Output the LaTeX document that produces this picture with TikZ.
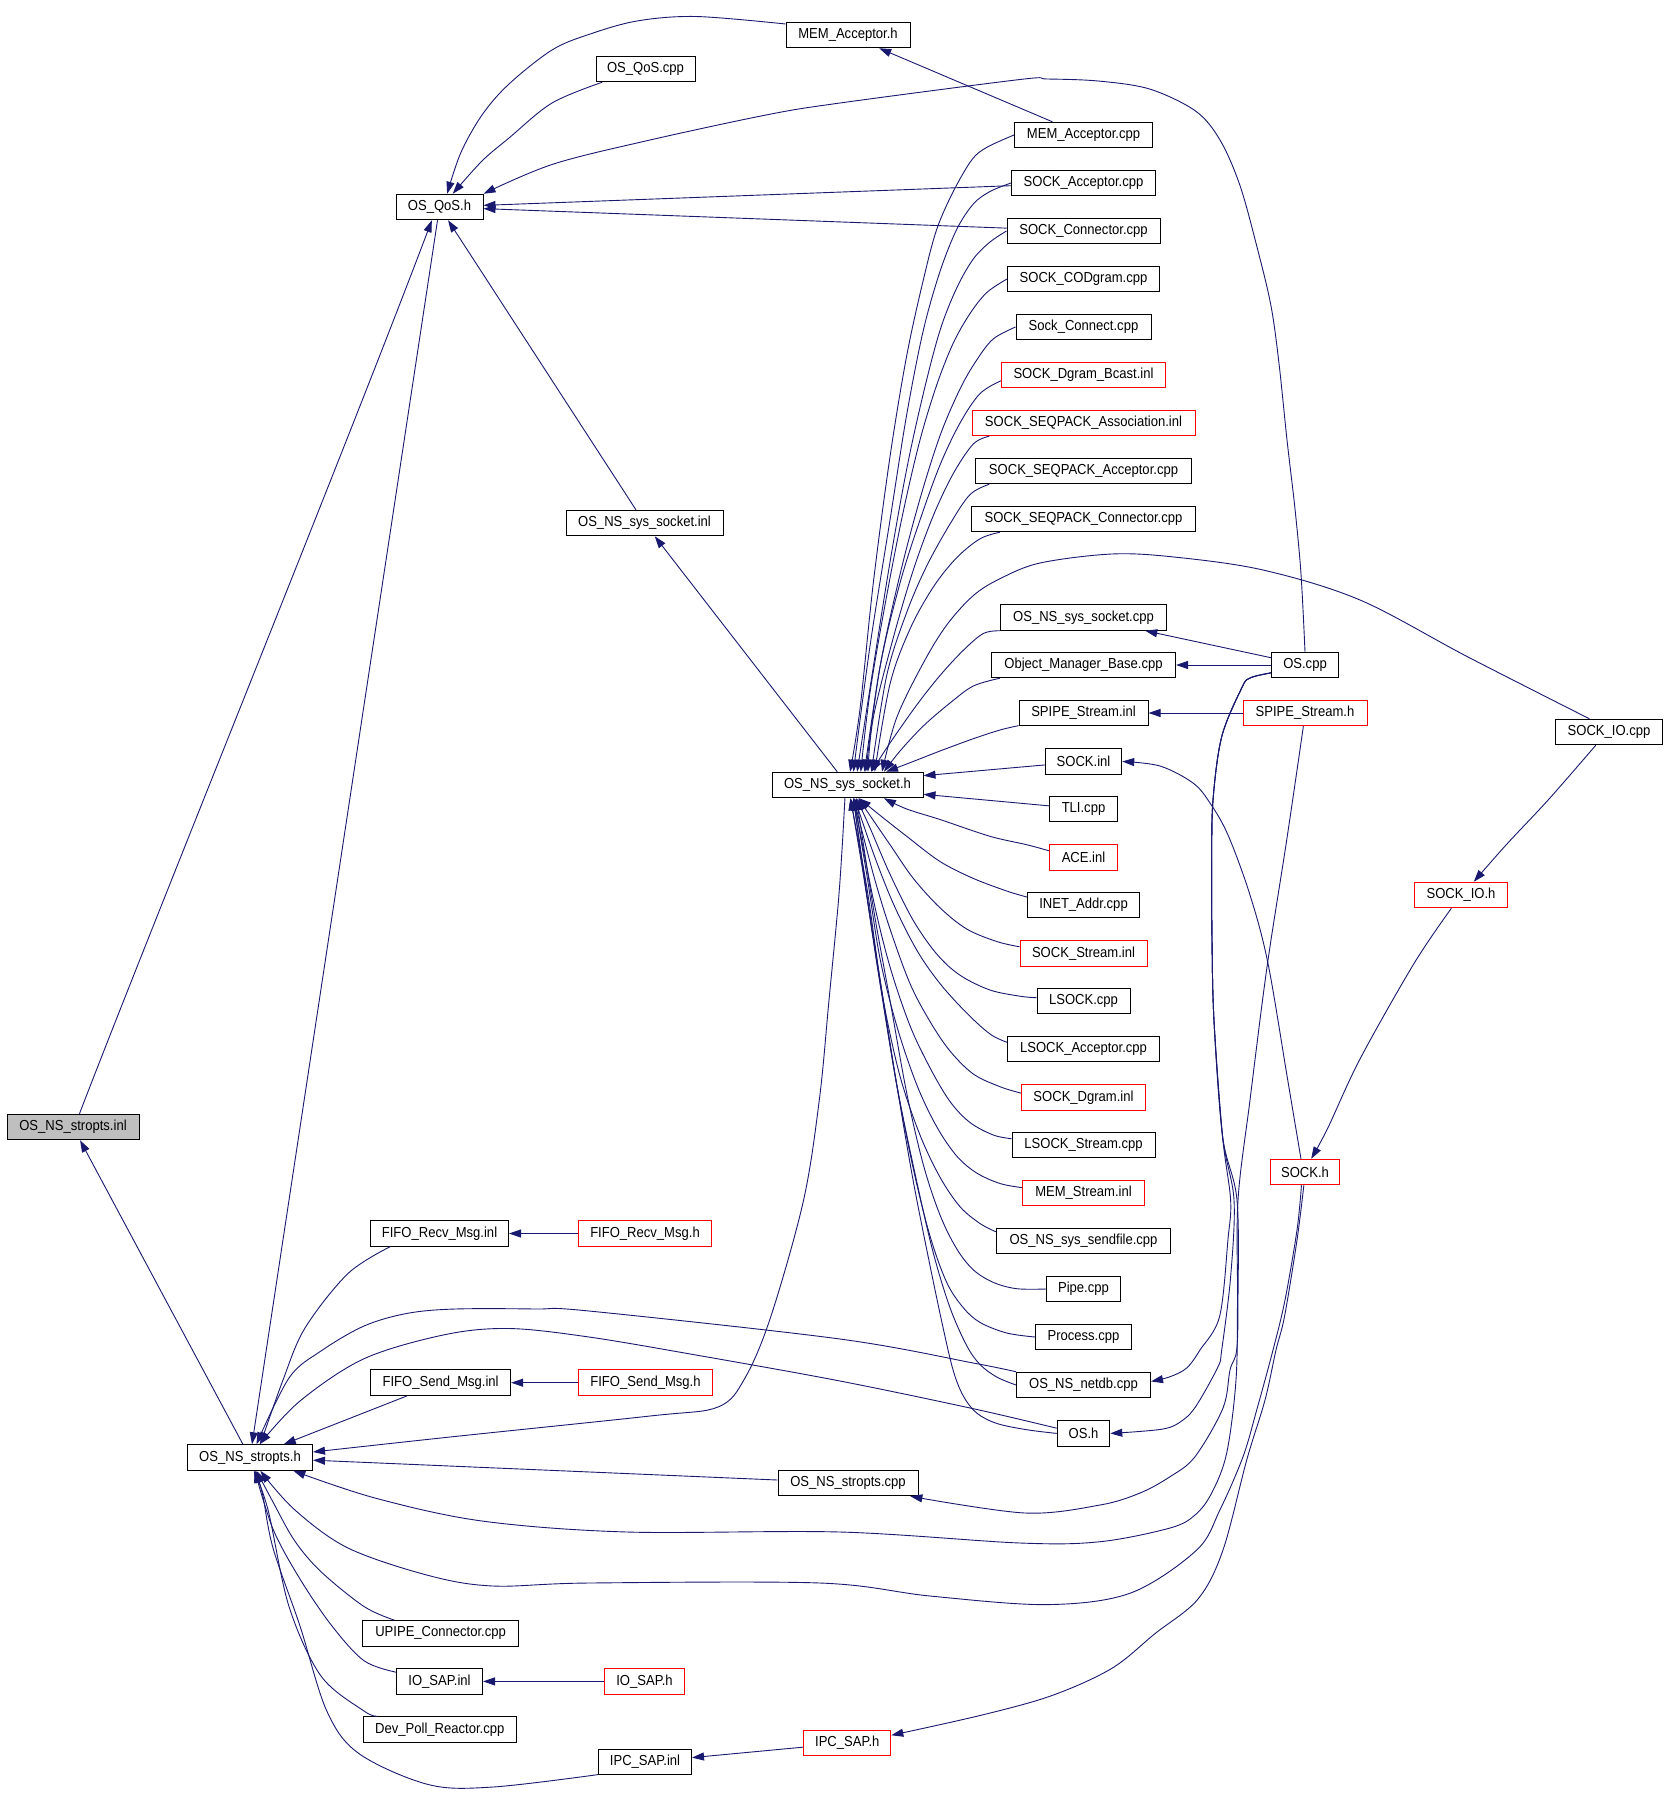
\documentclass[tikz,border=0pt]{standalone}
\usepackage{fontspec}
\setmainfont{Liberation Sans}[FakeStretch=0.9]
\usetikzlibrary{arrows.meta}
\definecolor{edgec}{RGB}{25,25,112}
\definecolor{rootfill}{RGB}{191,191,191}
\begin{document}
\begin{tikzpicture}[x=1pt,y=-1pt,
  box/.style={draw=black, line width=1pt, fill=white, minimum height=25.5pt, inner sep=0pt, font=\fontsize{14.5}{17}\selectfont},
  redbox/.style={box, draw=red},
  rootbox/.style={box, fill=rootfill},
  edge/.style={draw=edgec, line width=0.9pt, -{Triangle[length=12pt,width=8pt]}},
  sm/.style={smooth, tension=0.55}
]
\path[use as bounding box, fill=white] (0,0) rectangle (1667,1807);

% ---- left part
\node[rootbox, minimum width=132pt] (stinl) at (73,1127) {OS\_NS\_stropts.inl};
\node[box, minimum width=87pt] (qosh) at (439.5,207) {OS\_QoS.h};
\node[box, minimum width=99pt] (qoscpp) at (645.5,69) {OS\_QoS.cpp};
\node[box, minimum width=124pt] (memacch) at (848,35) {MEM\_Acceptor.h};
\node[box, minimum width=157pt] (nssinl) at (644.5,523) {OS\_NS\_sys\_socket.inl};
\node[box, minimum width=151pt] (ssh) at (847.5,785) {OS\_NS\_sys\_socket.h};
\node[box, minimum width=125pt] (sth) at (250,1457.5) {OS\_NS\_stropts.h};
\node[box, minimum width=138pt] (fifoRinl) at (439.5,1233.5) {FIFO\_Recv\_Msg.inl};
\node[redbox, minimum width=133pt] (fifoRh) at (645,1233.5) {FIFO\_Recv\_Msg.h};
\node[box, minimum width=140pt] (fifoSinl) at (440.6,1382.7) {FIFO\_Send\_Msg.inl};
\node[redbox, minimum width=134pt] (fifoSh) at (645.5,1382.7) {FIFO\_Send\_Msg.h};
\node[box, minimum width=140pt] (stcpp) at (848,1483) {OS\_NS\_stropts.cpp};
\node[box, minimum width=156pt] (upipe) at (440.6,1633.4) {UPIPE\_Connector.cpp};
\node[box, minimum width=86pt] (iosapinl) at (439.5,1681.4) {IO\_SAP.inl};
\node[redbox, minimum width=80pt] (iosaph) at (644.5,1681.4) {IO\_SAP.h};
\node[box, minimum width=153pt] (devpoll) at (439.8,1729.5) {Dev\_Poll\_Reactor.cpp};
\node[box, minimum width=93pt] (ipcsapinl) at (645,1762) {IPC\_SAP.inl};
\node[redbox, minimum width=87pt] (ipcsaph) at (847.3,1743) {IPC\_SAP.h};

% ---- right part
\node[box, minimum width=67pt] (oscpp) at (1305,665) {OS.cpp};
\node[redbox, minimum width=124pt] (spipeh) at (1305,713) {SPIPE\_Stream.h};
\node[redbox, minimum width=69.5pt] (sockh) at (1305,1172) {SOCK.h};
\node[redbox, minimum width=93pt] (sockioh) at (1461,895) {SOCK\_IO.h};
\node[box, minimum width=107pt] (sockiocpp) at (1609,732) {SOCK\_IO.cpp};

% ---- main column
\node[box, minimum width=138pt] (macpp) at (1083.5,135) {MEM\_Acceptor.cpp};
\node[box, minimum width=144pt] (sacc) at (1083.5,183) {SOCK\_Acceptor.cpp};
\node[box, minimum width=153pt] (scon) at (1083.5,231) {SOCK\_Connector.cpp};
\node[box, minimum width=152pt] (scod) at (1083.5,279) {SOCK\_CODgram.cpp};
\node[box, minimum width=135pt] (sconn) at (1083.5,327) {Sock\_Connect.cpp};
\node[redbox, minimum width=164pt] (sbcast) at (1083.5,375) {SOCK\_Dgram\_Bcast.inl};
\node[redbox, minimum width=223pt] (sassoc) at (1083.5,423) {SOCK\_SEQPACK\_Association.inl};
\node[box, minimum width=216pt] (sseqacc) at (1083.5,471) {SOCK\_SEQPACK\_Acceptor.cpp};
\node[box, minimum width=224pt] (sseqcon) at (1083.5,519) {SOCK\_SEQPACK\_Connector.cpp};
\node[box, minimum width=166pt] (nsscpp) at (1083.5,617.5) {OS\_NS\_sys\_socket.cpp};
\node[box, minimum width=184pt] (omb) at (1083.5,665) {Object\_Manager\_Base.cpp};
\node[box, minimum width=129pt] (spipeinl) at (1083.5,713) {SPIPE\_Stream.inl};
\node[box, minimum width=76.5pt] (sockinl) at (1083.5,761.5) {SOCK.inl};
\node[box, minimum width=68pt] (tli) at (1083.5,809) {TLI.cpp};
\node[redbox, minimum width=68pt] (aceinl) at (1083.5,857.5) {ACE.inl};
\node[box, minimum width=112pt] (inet) at (1083.5,905) {INET\_Addr.cpp};
\node[redbox, minimum width=127pt] (sstream) at (1083.5,953.5) {SOCK\_Stream.inl};
\node[box, minimum width=93pt] (lsock) at (1083.5,1001) {LSOCK.cpp};
\node[box, minimum width=152pt] (lsockacc) at (1083.5,1049) {LSOCK\_Acceptor.cpp};
\node[redbox, minimum width=124pt] (sdgram) at (1083.5,1097.5) {SOCK\_Dgram.inl};
\node[box, minimum width=143pt] (lsockstr) at (1083.5,1145) {LSOCK\_Stream.cpp};
\node[redbox, minimum width=122pt] (memstr) at (1083.5,1193) {MEM\_Stream.inl};
\node[box, minimum width=174pt] (sendfile) at (1083.5,1241) {OS\_NS\_sys\_sendfile.cpp};
\node[box, minimum width=74pt] (pipe) at (1083.5,1289) {Pipe.cpp};
\node[box, minimum width=96pt] (process) at (1083.5,1337) {Process.cpp};
\node[box, minimum width=134pt] (netdb) at (1083.5,1385) {OS\_NS\_netdb.cpp};
\node[box, minimum width=52.6pt] (osh) at (1083.5,1433.4) {OS.h};

% ---- straight connectors
\draw[edge] (sth) -- (stinl);
\draw[edge] (qosh) -- (sth);
\draw[edge] (nssinl) -- (qosh);
\draw[edge] (ssh) -- (nssinl);
\draw[edge] (macpp) -- (memacch);
\draw[edge] (sacc) -- (qosh);
\draw[edge] (scon) -- (qosh);
\draw[edge] (spipeh) -- (spipeinl);
\draw[edge] (oscpp) -- (omb);
\draw[edge] (oscpp) -- (nsscpp);
\draw[edge] (fifoRh) -- (fifoRinl);
\draw[edge] (fifoSh) -- (fifoSinl);
\draw[edge] (iosaph) -- (iosapinl);
\draw[edge] (ipcsaph) -- (ipcsapinl);
\draw[edge] (fifoSinl) -- (sth);
\draw[edge] (stcpp) -- (sth);
\draw[edge] (sockinl) -- (ssh.7.5);
\draw[edge] (tli) -- (ssh.-7);

% ---- curves into OS_QoS.h
\draw[edge] plot[sm] coordinates {(memacch.170) (696,16.5) (637,21) (589,34.4) (552,50) (509,84) (482,115) (460.7,153) (qosh.60)};
\draw[edge] plot[sm] coordinates {(qoscpp.-163) (552,103) (509,138) (482,161) (qosh.45)};
\draw[edge] plot[sm] coordinates {(oscpp.north) (1301,574) (1295,509) (1287,440) (1279,363.5) (1271,306) (1257.5,249) (1240,185.6) (1220,140) (1195.5,111) (1149.5,89) (1098,81) (1047,79) (1020,79.5) (840,103) (766,115) (643,141.6) (552,164.5) (qosh.north east)};
\draw[edge] (stinl.64) .. controls (150,930) and (345,450) .. (qosh.-120);

% ---- fan into OS_NS_sys_socket.h (from above)
\draw[edge] plot[sm] coordinates {(macpp.west) (986.7,147.4) (971.7,160) (953.3,191.5) (936.7,229.4) (923.3,280) (906.7,355.7) (890,456.7) (873.3,583) (860,709) (ssh.79)};
\draw[edge] plot[sm] coordinates {(sacc.west) (990,191.5) (973.3,204) (956.7,229.4) (940,271.5) (923.3,330.4) (906.7,414.6) (890,520) (870,646) (ssh.66.6)};
\draw[edge] plot[sm] coordinates {(scon.west) (990,242) (973.3,259) (956.7,288) (940,330.4) (923.3,393.6) (906.7,469) (890,562) (873.3,667) (ssh.54)};
\draw[edge] plot[sm] coordinates {(scod.west) (986.7,292.6) (970,313.6) (953.3,343) (936.7,385) (920,440) (903.3,511.4) (886.7,595.6) (870,692.4) (ssh.45.5)};
\draw[edge] plot[sm] coordinates {(sconn.west) (993.3,338.9) (976.7,360) (960,389) (940,435.7) (920,498.8) (900,574.5) (880,667) (ssh.38.8)};
\draw[edge] plot[sm] coordinates {(sbcast.-176) (980,393.6) (960,423) (940,465) (920,520) (900,583) (880,667) (ssh.36)};
\draw[edge] plot[sm] coordinates {(sassoc.-172.5) (973.3,444) (953.3,473.5) (933.3,515.6) (913.3,570) (893.3,637.7) (873.3,717.6) (ssh.33.5)};
\draw[edge] plot[sm] coordinates {(sseqacc.-172.7) (970,494.6) (950,524) (926.7,566) (906.7,612.4) (886.7,675.5) (ssh.29.4)};
\draw[edge] plot[sm] coordinates {(sseqcon.-171.4) (980,538.8) (956.7,557.7) (933.3,587) (910,629) (890,684) (ssh.26.2)};
\draw[edge] plot[sm] coordinates {(sockiocpp.146) (1468,657) (1360,600) (1263,570) (1174,557) (1111.7,554) (1040,563) (1000,578.7) (973.3,595.6) (946.7,625) (923.3,663) (896.7,717.6) (ssh.21.3)};
\draw[edge] plot[sm] coordinates {(nsscpp.-171.9) (983.3,633.5) (963.3,650.3) (940,675.5) (916.7,705) (890,743) (ssh.29.2)};
\draw[edge] plot[sm] coordinates {(omb.-171.4) (973.3,686) (950,703) (923.3,726) (900,751) (ssh.20.8)};
\draw[edge] plot[sm] coordinates {(spipeinl.-169.6) (1000,730) (973.3,738.7) (940,751) (906.7,764) (ssh.19.3)};

% ---- fan into OS_NS_sys_socket.h (from below)
\draw[edge] plot[sm] coordinates {(aceinl.169) (1026.7,844.7) (990,836.3) (940,819.5) (906.7,809) (ssh.-20)};
\draw[edge] plot[sm] coordinates {(inet.172.1) (1006.7,891) (973.3,878.4) (940,861.5) (906.7,836.3) (880,815.3) (ssh.-49.6)};
\draw[edge] plot[sm] coordinates {(sstream.174.2) (996.7,941.5) (966.7,929) (940,907.8) (913.3,878.4) (890,844.7) (ssh.-51.2)};
\draw[edge] plot[sm] coordinates {(lsock.176.6) (1020,996.2) (990,990) (960,975.2) (936.7,954) (913.3,920.5) (890,874.2) (870,827.9) (ssh.-56.5)};
\draw[edge] plot[sm] coordinates {(lsockacc.175.1) (990,1034) (966.7,1013) (940,983.6) (916.7,950) (893.3,903.6) (873.3,853) (ssh.-62.9)};
\draw[edge] plot[sm] coordinates {(sdgram.176.7) (1000,1086.7) (973.3,1074) (950,1051) (930,1021.5) (910,983.6) (890,928.9) (873.3,874.2) (ssh.-65.8)};
\draw[edge] plot[sm] coordinates {(lsockstr.175.4) (993.3,1135) (970,1122.5) (950,1101.5) (930,1067.8) (910,1025.7) (890,966.8) (873.3,899.4) (ssh.-65.5)};
\draw[edge] plot[sm] coordinates {(memstr.175) (1000,1183.5) (976.7,1173) (956.7,1156) (936.7,1126.7) (916.7,1084.6) (896.7,1025.7) (880,958.4) (866.7,874.2) (ssh.-64)};
\draw[edge] plot[sm] coordinates {(sendfile.174.1) (980,1223.5) (960,1206.7) (940,1177.2) (920,1135) (900,1076.2) (883.3,1000.4) (870,916.3) (ssh.-66.6)};
\draw[edge] plot[sm] coordinates {(pipe.west) (1016.7,1288.7) (993.3,1282.4) (973.3,1269.8) (956.7,1248.8) (940,1215) (923.3,1164.6) (906.7,1093) (890,1000.4) (873.3,907.8) (ssh.-56.2)};
\draw[edge] plot[sm] coordinates {(process.west) (1006.7,1333) (980,1322.4) (963.3,1307.7) (946.7,1282.4) (930,1236) (913.3,1168.8) (896.7,1084.6) (880,983.6) (866.7,895.2) (ssh.-66.6)};
\draw[edge] plot[sm] coordinates {(netdb.west) (996.7,1377) (980,1364.5) (966.7,1345.6) (950,1307.7) (933.3,1253) (916.7,1181.4) (896.7,1084.6) (880,979.4) (866.7,886.8) (ssh.-78)};
\draw[edge] plot[sm] coordinates {(osh.west) (1026.7,1429.7) (996.7,1423.4) (976.7,1413) (963.3,1396) (953.3,1370.8) (943.3,1328.7) (930,1265.6) (913.3,1181.4) (896.7,1084.6) (880,979.4) (863.3,874.2) (ssh.-77.1)};

% ---- right side
\draw[edge] plot[sm] coordinates {(sockiocpp.-135) (1549,799) (1506,845) (sockioh.46)};
\draw[edge] plot[sm] coordinates {(sockioh.-126) (1414,963.5) (1360,1059) (1327.8,1128) (sockh.65)};
\draw[edge] plot[sm] coordinates {(sockh.107) (1287.7,1080) (1268,963.5) (1250,895) (1228,835) (1210,803) (1193,783) (1160,766) (sockinl.east)};

% ---- OS.cpp bundle
\draw[edge] plot[sm] coordinates {(oscpp.-167) (1250,678) (1241.7,688) (1221.7,736.7) (1213,800) (1211.7,860) (1212,940) (1214,1021) (1222.5,1136) (1230.6,1200) (1228,1239) (1219.7,1316) (1200,1350) (1186.7,1368) (1170,1376.7) (netdb.3)};
\draw[edge] plot[sm] coordinates {(oscpp.-167) (1250,678) (1241.7,688) (1221.7,736.7) (1213,800) (1211.7,860) (1212,940) (1214,1021) (1222.5,1136) (1234,1200) (1230.6,1277) (1221.7,1350) (1218,1366.7) (1196.7,1405) (1183,1420) (1163,1429) (osh.east)};
\draw[edge] plot[sm] coordinates {(oscpp.-167) (1250,678) (1241.7,688) (1221.7,736.7) (1213,800) (1211.7,860) (1212,940) (1214,1021) (1222.5,1136) (1237,1200) (1238,1300) (1236.7,1350) (1230,1370) (1223,1408) (1195,1456.7) (1170,1476.7) (1140,1493) (1100,1505) (1025,1513) (stcpp.-12.85)};

% ---- long curves into OS_NS_stropts.h
\draw[edge] plot[sm] coordinates {(spipeh.-97.5) (1286.7,840) (1267,967) (1250,1100) (1238,1200) (1237.5,1300) (1236,1380) (1226.7,1453) (1211.7,1493) (1195,1515) (1170,1528) (1100,1541.7) (1020,1543) (840,1532) (627,1532) (482,1521) (375,1498) (sth.-17)};
\draw[edge] plot[sm] coordinates {(sockh.-105) (1297,1230) (1285,1300) (1273,1350) (1256.7,1410) (1243,1456.7) (1220,1509.7) (1196.7,1550) (1130.6,1593) (1047,1604.6) (930,1596) (820,1583) (589,1583) (493,1586) (428.6,1575.5) (348,1548) (294.6,1509.7) (sth.-52)};
\draw[edge] plot[sm] coordinates {(sockh.-95) (1297,1240) (1284.6,1316) (1276,1350) (1265,1400) (1246.7,1460) (1223,1550) (1198,1599) (1155,1633.6) (1111.7,1668.4) (1052,1695.5) (982,1715) (ipcsaph.10)};
\draw[edge] plot[sm] coordinates {(ipcsapinl.-165) (493,1787) (428.6,1784.6) (359,1753.6) (326.8,1711) (300,1626) (273,1548) (262.5,1494) (sth.-68)};
\draw[edge] plot[sm] coordinates {(devpoll.168) (364,1711) (321,1676) (289,1606.5) (268,1509.7) (sth.-74)};
\draw[edge] plot[sm] coordinates {(iosapinl.168) (364,1660.7) (332,1626) (300,1579) (273,1529) (sth.-70)};
\draw[edge] plot[sm] coordinates {(upipe.164) (364,1606.5) (321,1571.7) (294.6,1540.7) (273,1502) (sth.-64)};
\draw[edge] plot[sm] coordinates {(fifoRinl.-165.4) (348,1273.5) (305,1328) (283,1380) (sth.52)};
\draw[edge] plot[sm] coordinates {(netdb.north west) (973.3,1363) (840,1339) (589,1311) (535.7,1309) (455,1309) (407,1313.4) (364,1326) (321,1351) (289,1378) (sth.64)};
\draw[edge] plot[sm] coordinates {(osh.169) (973.3,1408.7) (840,1381) (696,1355) (589,1337) (509,1328.5) (444.6,1334.7) (364,1358.7) (300,1401) (sth.54)};
\draw[edge] plot[sm] coordinates {(ssh.-101) (842,850) (838,906) (829,1000) (819.6,1097.5) (803.6,1200) (771,1316) (745,1378) (718,1407) (650,1416) (450,1437) (sth.5.5)};
\end{tikzpicture}
\end{document}
